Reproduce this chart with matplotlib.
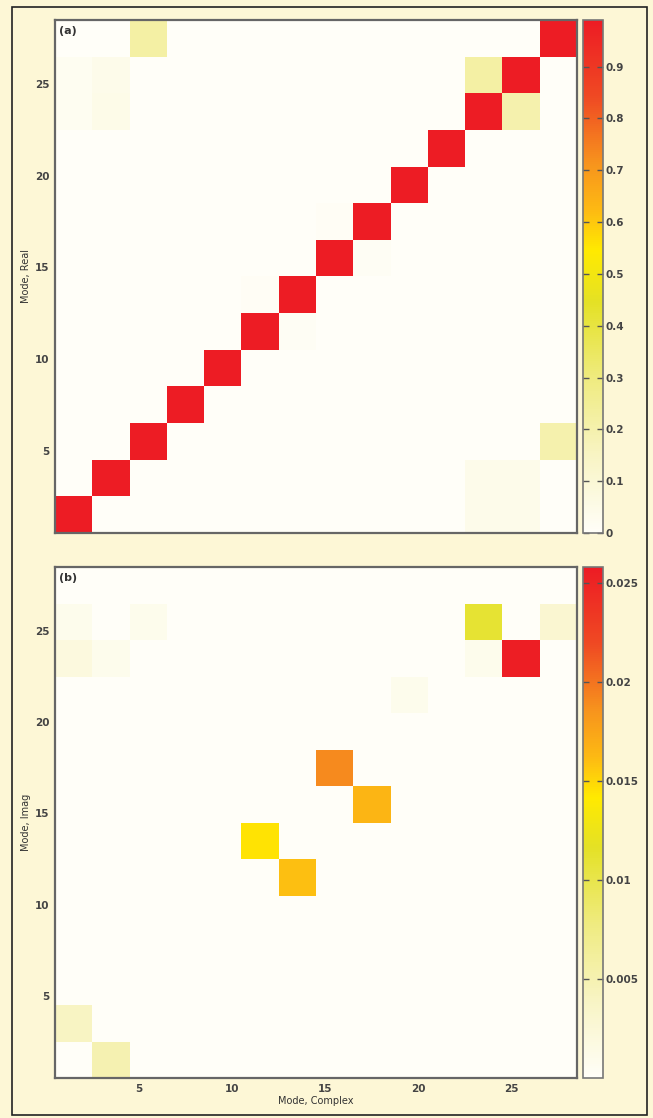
import numpy as np
import matplotlib
matplotlib.use('Agg')
import matplotlib.pyplot as plt
from matplotlib.colors import LinearSegmentedColormap
from matplotlib.patches import Rectangle

# grid: 14 x 14 cells, each covering 2 modes (0.5 .. 28.5)
edges = np.arange(0.5, 29, 2)
n = 14

# panel (a) - real part, (column i, row j from bottom, value)
real_diag = 0.99
real_cells = [(11, 12, 0.22), (12, 11, 0.20), (2, 13, 0.22),
              (0, 11, 0.02), (0, 12, 0.02), (1, 11, 0.05), (1, 12, 0.04),
              (13, 2, 0.20), (11, 0, 0.04), (12, 0, 0.04), (11, 1, 0.04), (12, 1, 0.04),
              (7, 8, 0.01), (8, 7, 0.015), (5, 6, 0.01), (6, 5, 0.015)]
real_max = 0.99

# panel (b) - imaginary part
imag_cells = [(11, 12, 0.0110), (12, 11, 0.0255), (13, 12, 0.003), (11, 11, 0.001),
              (9, 10, 0.001), (7, 8, 0.0190), (8, 7, 0.0165), (5, 6, 0.0145), (6, 5, 0.0160),
              (0, 12, 0.001), (2, 12, 0.001), (0, 11, 0.002), (1, 11, 0.001),
              (0, 1, 0.004), (1, 0, 0.005)]
imag_max = 0.0258

real_ticks = [0, 0.1, 0.2, 0.3, 0.4, 0.5, 0.6, 0.7, 0.8, 0.9]
imag_ticks = [0.005, 0.01, 0.015, 0.02, 0.025]
imag_labels = ['0.005', '0.01', '0.015', '0.02', '0.025']
axis_ticks = [5, 10, 15, 20, 25]

A = np.zeros((n, n))
for k in range(n):
    A[k, k] = real_diag
for i, j, v in real_cells:
    A[j, i] = v
B = np.zeros((n, n))
for i, j, v in imag_cells:
    B[j, i] = v

cmap = LinearSegmentedColormap.from_list('wyr', [
    (0.00, '#fffef8'), (0.15, '#f8f4c4'), (0.30, '#efeb80'), (0.45, '#e4e125'),
    (0.55, '#ffea00'), (0.63, '#fdb913'), (0.72, '#f7941d'), (0.85, '#ef4a23'),
    (1.00, '#ed1c24')])

bg = '#fdf7d6'
fig = plt.figure(figsize=(6.53, 11.18), dpi=100, facecolor=bg)
fig.patches.append(Rectangle((12/653, 1 - 1115/1118), 635/653, 1108/1118,
                             transform=fig.transFigure, fill=False,
                             edgecolor='#222222', linewidth=1.2))

W, H = 653, 1118

def panel(data, vmax, top_px, bot_px, tag, ylabel, cticks, clabels):
    ax = fig.add_axes([55/W, 1 - bot_px/H, 522/W, (bot_px - top_px)/H])
    ax.set_facecolor('#fffefa')
    m = ax.pcolormesh(edges, edges, data, cmap=cmap, vmin=0, vmax=vmax)
    ax.set_xlim(0.5, 28.5)
    ax.set_ylim(0.5, 28.5)
    ax.set_xticks(axis_ticks)
    ax.set_yticks(axis_ticks)
    ax.tick_params(length=0, pad=4, labelsize=7.5, labelcolor='#444444')
    for lab in ax.get_xticklabels() + ax.get_yticklabels():
        lab.set_fontweight('bold')
    for s in ax.spines.values():
        s.set_color('#666666')
        s.set_linewidth(1.6)
    ax.text(0.008, 0.988, tag, transform=ax.transAxes, va='top', ha='left',
            fontsize=8, fontweight='bold', color='#333333')
    ax.set_ylabel(ylabel, fontsize=7, color='#333333', labelpad=3)

    cax = fig.add_axes([583/W, 1 - bot_px/H, 20/W, (bot_px - top_px)/H])
    cb = fig.colorbar(m, cax=cax)
    cb.set_ticks(cticks)
    cb.set_ticklabels(clabels)
    cax.tick_params(direction='in', left=True, right=True, length=4, width=1,
                    color='#555555', labelsize=7.5, labelcolor='#444444', pad=2)
    for lab in cax.get_yticklabels():
        lab.set_fontweight('bold')
    cb.outline.set_edgecolor('#777777')
    cb.outline.set_linewidth(1.2)
    return ax

ax1 = panel(A, real_max, 20, 533, '(a)', 'Mode, Real',
            real_ticks, [f'{t:g}' for t in real_ticks])
ax1.set_xticklabels([])
ax2 = panel(B, imag_max, 567, 1078, '(b)', 'Mode, Imag',
            imag_ticks, imag_labels)
ax2.set_xlabel('Mode, Complex', fontsize=7, color='#333333', labelpad=2)

fig.savefig('out.png', dpi=100, facecolor=bg)
